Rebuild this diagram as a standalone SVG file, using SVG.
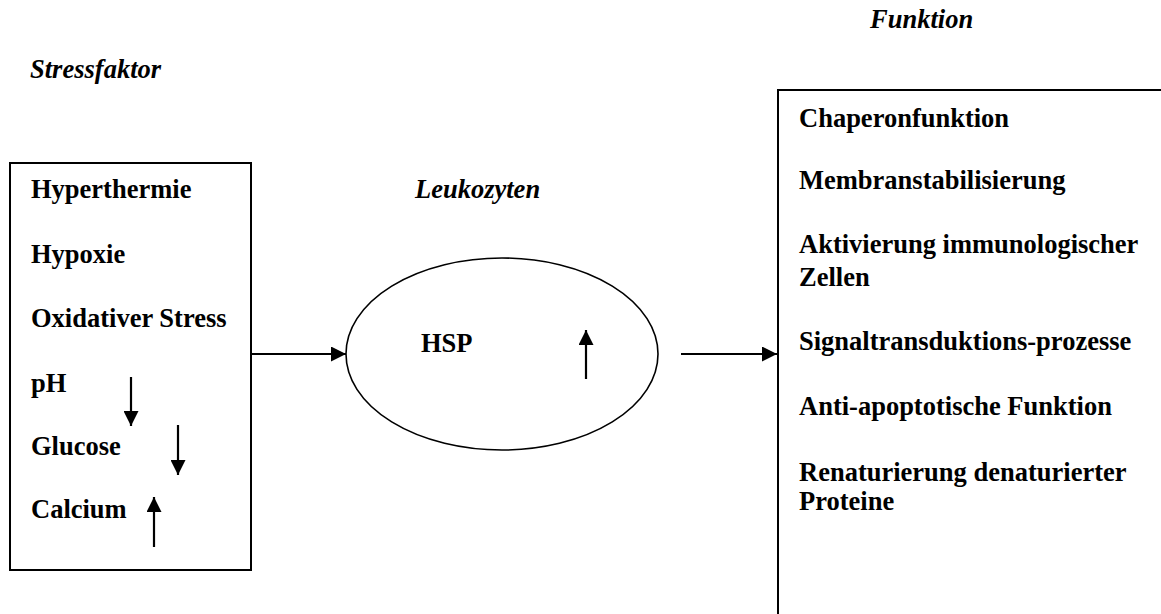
<svg xmlns="http://www.w3.org/2000/svg" width="1161" height="614" viewBox="0 0 1161 614">
<style>
  text { font-family: "Liberation Serif", "Times New Roman", serif; font-size: 26.5px; fill: #000; }
  .b { font-weight: bold; }
  .bi { font-weight: bold; font-style: italic; }
  .box { fill: #fff; stroke: #000; stroke-width: 2; }
  .ell { fill: #fff; stroke: #000; stroke-width: 1.6; }
  .arr { fill: none; stroke: #000; stroke-width: 2.2; marker-end: url(#ah); }
</style>
<defs>
  <marker id="ah" viewBox="0 0 15 15" refX="15" refY="7.5" markerWidth="15" markerHeight="15" markerUnits="userSpaceOnUse" orient="auto">
    <path d="M0,0 L15,7.5 L0,15 z" fill="#000"/>
  </marker>
</defs>
<rect width="1161" height="614" fill="#fff"/>

<text class="bi" x="30" y="78">Stressfaktor</text>
<text class="bi" x="415" y="198">Leukozyten</text>
<text class="bi" x="870" y="28">Funktion</text>

<g id="stressfaktor">
  <rect class="box" x="10" y="163" width="241" height="407"/>
  <text class="b" x="31" y="198">Hyperthermie</text>
  <text class="b" x="31" y="263">Hypoxie</text>
  <text class="b" x="31" y="327">Oxidativer Stress</text>
  <text class="b" x="31" y="392">pH</text>
  <text class="b" x="31" y="455">Glucose</text>
  <text class="b" x="31" y="518">Calcium</text>
  <line class="arr" x1="131" y1="377" x2="131" y2="426"/>
  <line class="arr" x1="178" y1="425" x2="178" y2="475"/>
  <line class="arr" x1="154" y1="547" x2="154" y2="497"/>
</g>

<g id="hsp">
  <ellipse class="ell" cx="502" cy="354" rx="156" ry="96"/>
  <text class="b" x="421" y="352">HSP</text>
  <line class="arr" x1="586" y1="379" x2="586" y2="330"/>
</g>

<g id="funktion">
  <rect class="box" x="778" y="90" width="400" height="560"/>
  <text class="b" x="799" y="127">Chaperonfunktion</text>
  <text class="b" x="799" y="189">Membranstabilisierung</text>
  <text class="b" x="799" y="253">Aktivierung immunologischer</text>
  <text class="b" x="799" y="286">Zellen</text>
  <text class="b" x="799" y="350">Signaltransduktions-prozesse</text>
  <text class="b" x="799" y="415">Anti-apoptotische Funktion</text>
  <text class="b" x="799" y="481">Renaturierung denaturierter</text>
  <text class="b" x="799" y="510">Proteine</text>
</g>

<g id="connectors">
  <line class="arr" x1="251" y1="354" x2="346" y2="354"/>
  <line class="arr" x1="681" y1="354" x2="777" y2="354"/>
</g>
</svg>
